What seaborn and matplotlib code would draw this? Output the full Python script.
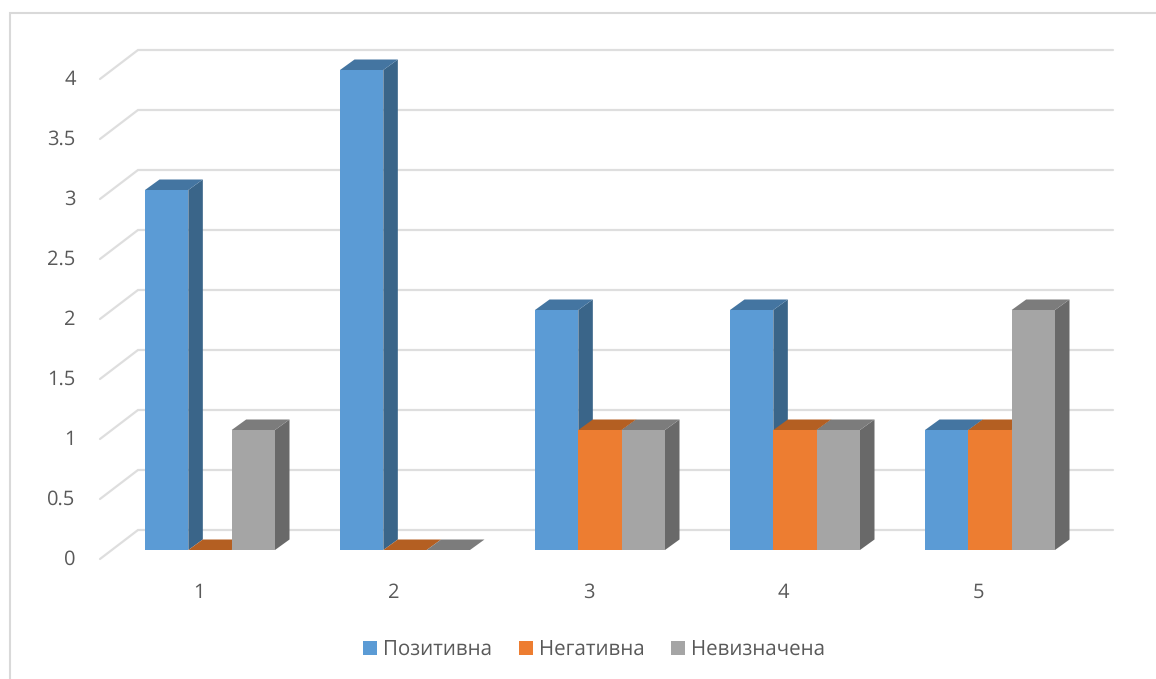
import matplotlib
matplotlib.use("Agg")
import matplotlib.pyplot as plt
from matplotlib.patches import Polygon, Rectangle
from matplotlib.transforms import ScaledTranslation
import pandas as pd
import seaborn as sns

# Chart values
categories = ["1", "2", "3", "4", "5"]
series_names = ["Позитивна", "Негативна", "Невизначена"]
positive = [3, 4, 2, 2, 1]
negative = [0, 0, 1, 1, 1]
undefined = [1, 0, 1, 1, 2]
y_ticks = [0, 0.5, 1, 1.5, 2, 2.5, 3, 3.5, 4]

# Colours of the front, top and side faces of each series
front_colors = ["#5B9BD5", "#ED7D31", "#A5A5A5"]
top_colors = ["#4475A1", "#B45F22", "#7C7C7C"]
side_colors = ["#3A6589", "#8F4C1C", "#696969"]
text_color = "#595959"
line_color = "#DEDEDE"

W, H = 1156, 679
DPI = 100
LEFT, BASE = 100, 550      # axes left edge and the baseline of the bars, in pixels
X0, X_STEP = 210, 195      # pixel centre of the first group, group spacing
Y_STEP = 120               # pixels per unit of value

sns.set_theme(style="white")
plt.rcParams["font.family"] = ["Open Sans", "DejaVu Sans"]
plt.rcParams["text.hinting"] = "no_hinting"

df = pd.DataFrame({"category": categories,
                   series_names[0]: positive,
                   series_names[1]: negative,
                   series_names[2]: undefined})
long_df = df.melt(id_vars="category", var_name="series", value_name="value")

fig = plt.figure(figsize=(W / DPI, H / DPI), dpi=DPI, facecolor="white")
ax = fig.add_axes([LEFT / W, 1 - BASE / H, (W - LEFT) / W, BASE / H])

sns.barplot(data=long_df, x="category", y="value", hue="series",
            hue_order=series_names, palette=front_colors, saturation=1,
            width=130 / 195, gap=0, dodge=True, linewidth=0, ax=ax, zorder=3)

ax.set_xlim((LEFT - X0) / X_STEP, (W - X0) / X_STEP)
ax.set_ylim(0, BASE / Y_STEP)
ax.set_xlabel("")
ax.set_ylabel("")
for spine in ax.spines.values():
    spine.set_visible(False)
ax.patch.set_alpha(0)

# Depth of the bars and of the chart walls, in data units
bar_dx, bar_dy = 14.5 / X_STEP, 10.5 / Y_STEP
wall_dy = 20 / Y_STEP
front_dy = -9 / Y_STEP
wall_left = (138 - X0) / X_STEP
wall_front = (100 - X0) / X_STEP
wall_right = (1113 - X0) / X_STEP

# Back wall gridlines and the slanted lines on the side wall
for tick in y_ticks:
    ax.plot([wall_front, wall_left, wall_right],
            [tick + front_dy, tick + wall_dy, tick + wall_dy],
            color=line_color, lw=1.6, zorder=1, clip_on=False,
            solid_joinstyle="miter")

# Top and side faces built from the bars that seaborn drew
n_groups = len(categories)
bars = [p for p in ax.patches if isinstance(p, Rectangle)][:n_groups * len(series_names)]
for idx, bar in enumerate(bars):
    s = idx // n_groups
    x0, w, h = bar.get_x(), bar.get_width(), bar.get_height()
    x1 = x0 + w
    ax.add_patch(Polygon([(x0, h), (x1, h), (x1 + bar_dx, h + bar_dy), (x0 + bar_dx, h + bar_dy)],
                         closed=True, facecolor=top_colors[s], edgecolor="none", zorder=2.2))
    ax.add_patch(Polygon([(x1, 0), (x1 + bar_dx, bar_dy), (x1 + bar_dx, h + bar_dy), (x1, h)],
                         closed=True, facecolor=side_colors[s], edgecolor="none", zorder=2.1))

# Tick labels sit slightly off the bar groups because of the 3D projection
ax.set_yticks(y_ticks)
ax.set_yticklabels([f"{t:g}" for t in y_ticks])
ax.tick_params(axis="both", length=0, labelsize=14.5, labelcolor=text_color)
ax.tick_params(axis="y", pad=17.5)
ax.tick_params(axis="x", pad=23.5)
px = fig.dpi_scale_trans
for label in ax.get_yticklabels():
    label.set_transform(label.get_transform() + ScaledTranslation(0, -7.5 / DPI, px))
for label in ax.get_xticklabels():
    label.set_transform(label.get_transform() + ScaledTranslation(-11.5 / DPI, 0, px))

sns.move_legend(ax, loc="center", bbox_to_anchor=(594 / W, 1 - 650 / H),
                bbox_transform=fig.transFigure, ncol=3, frameon=False, title=None,
                fontsize=14.8, labelcolor=text_color, handlelength=0.68, handleheight=0.68,
                handletextpad=0.3, columnspacing=1.3, borderpad=0)

# Chart area outline
fig.add_artist(Rectangle((10 / W, 1 - 690 / H), 1180 / W, 677 / H, transform=fig.transFigure,
                         facecolor="none", edgecolor="#D9D9D9", lw=1.5, zorder=0))

fig.savefig("out.png", dpi=DPI, facecolor="white")
